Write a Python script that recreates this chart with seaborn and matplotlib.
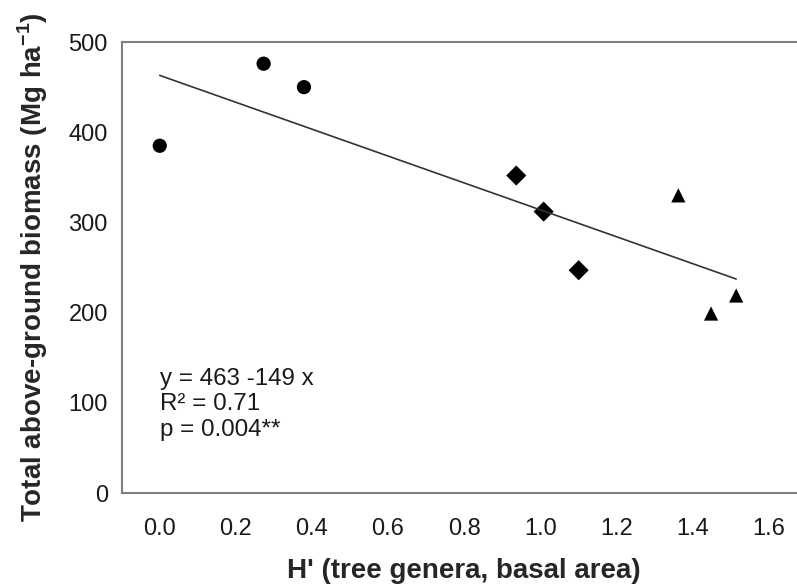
import pandas as pd
import matplotlib.pyplot as plt
import seaborn as sns

# --- data ---
h_div = [0.0, 0.273, 0.379, 0.937, 1.009, 1.101, 1.363, 1.449, 1.515]
biomass = [385, 476, 450, 352, 312, 247, 330, 199, 219]
group = ['a', 'a', 'a', 'b', 'b', 'b', 'c', 'c', 'c']

# regression from the annotation
intercept = 463
slope = -149
stats_text = "y = 463 -149 x\nR\u00b2 = 0.71\np = 0.004**"

df = pd.DataFrame({'H': h_div, 'biomass': biomass, 'group': group})

fit = pd.DataFrame({'H': [min(h_div), max(h_div)]})
fit['biomass'] = intercept + slope * fit['H']

sns.set_style('white')
plt.rcParams['font.family'] = ['Liberation Sans', 'DejaVu Sans']
plt.rcParams['mathtext.fontset'] = 'custom'
plt.rcParams['mathtext.bf'] = 'Liberation Sans:bold'
plt.rcParams['mathtext.rm'] = 'Liberation Sans'

fig = plt.figure(figsize=(7.97, 5.87), dpi=100)
ax = fig.add_axes([0.1527, 0.1601, 0.8593, 0.7683])

sns.lineplot(data=fit, x='H', y='biomass', color='#333333', linewidth=1.2, ax=ax)
sns.scatterplot(data=df, x='H', y='biomass', style='group',
                markers={'a': 'o', 'b': 'D', 'c': '^'},
                color='black', s=105, edgecolor='black', linewidth=0,
                legend=False, ax=ax)

ax.set_xlim(-0.1, 1.7)
ax.set_ylim(0, 500)
ax.set_xticks([0.0, 0.2, 0.4, 0.6, 0.8, 1.0, 1.2, 1.4, 1.6])
ax.set_yticks([0, 100, 200, 300, 400, 500])
ax.xaxis.set_major_formatter(plt.FormatStrFormatter('%.1f'))

for side in ['left', 'bottom', 'top', 'right']:
    ax.spines[side].set_color('#7f7f7f')
    ax.spines[side].set_linewidth(1.5)

ax.tick_params(axis='x', direction='out', length=6, width=1.2,
               color='#555555', labelsize=17, pad=12, labelcolor='#1a1a1a')
ax.tick_params(axis='y', direction='in', length=6, width=1.2,
               color='#555555', labelsize=17, pad=10, labelcolor='#1a1a1a')

ax.set_xlabel("H' (tree genera, basal area)", fontsize=20, fontweight='bold', labelpad=13)
ax.set_ylabel("Total above-ground biomass (Mg ha$^{\\mathbf{-1}}$)",
              fontsize=20, fontweight='bold', labelpad=13)

ax.text(0.0, 139, stats_text, fontsize=17.4, va='top', ha='left',
        linespacing=1.22, color='#1a1a1a')

fig.savefig('out.png', dpi=100)
